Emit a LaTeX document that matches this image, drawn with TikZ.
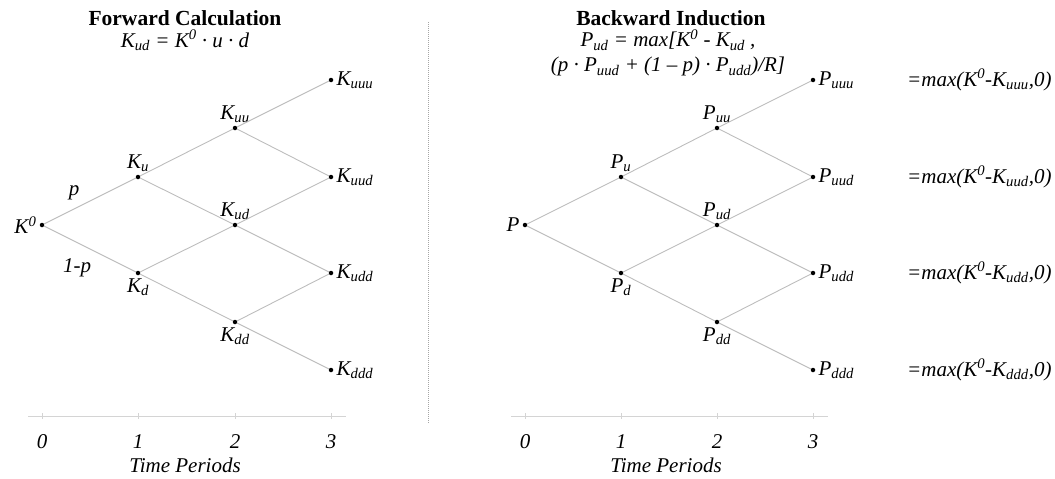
\documentclass[tikz,border=0pt]{standalone}
\usepackage{fontspec}
\setmainfont{Liberation Serif}
\usepackage{tikz}
\usetikzlibrary{positioning}
\usepackage{xcolor}
\definecolor{edgegray}{HTML}{BDBDBD}
\definecolor{axisgray}{HTML}{D4D4D4}
\definecolor{sepgray}{HTML}{A6A6A6}
\newcommand{\subtxt}[1]{\textsubscript{#1}}
\newcommand{\suptxt}[1]{\textsuperscript{#1}}

\begin{document}
\begin{tikzpicture}[x=1pt, y=-1pt,
  every node/.style={font=\fontsize{21}{23}\selectfont\itshape},
  dot/.style={circle, fill=black, inner sep=0pt, minimum size=4.5pt},
  every label/.style={inner sep=3pt},
  endlabel/.style={label distance=3pt},
  branch/.style={draw=edgegray, line width=0.9pt},
  axisline/.style={draw=axisgray, line width=0.9pt},
  titlebox/.style={inner sep=0pt, font=\fontsize{21.5}{23}\selectfont\bfseries},
  formulabox/.style={inner sep=0pt, align=center, font=\fontsize{21}{25}\selectfont\itshape},
  payoff/.style={anchor=west, inner sep=0pt}
]
  \useasboundingbox (0,0) rectangle (1055,479);

  % Forward Calculation
  \node[titlebox] (ftitle) at (185,18) {Forward Calculation};
  \node[formulabox] (fform) at (185,40) {K\subtxt{ud} = K\suptxt{0} · u · d};

  % Nodos del arbol de precios
  \node[dot, label={left:K\suptxt{0}}] (K0) at (42,225) {};
  \node[dot, label={above:K\subtxt{u}}] (Ku) at (138,177) {};
  \node[dot, label={below:K\subtxt{d}}] (Kd) at (138,273) {};
  \node[dot, label={above:K\subtxt{uu}}] (Kuu) at (235,128) {};
  \node[dot, label={above:K\subtxt{ud}}] (Kud) at (235,225) {};
  \node[dot, label={below:K\subtxt{dd}}] (Kdd) at (235,322) {};
  \node[dot, endlabel, label={right:K\subtxt{uuu}}] (Kuuu) at (331,80) {};
  \node[dot, endlabel, label={right:K\subtxt{uud}}] (Kuud) at (331,177) {};
  \node[dot, endlabel, label={right:K\subtxt{udd}}] (Kudd) at (331,273) {};
  \node[dot, endlabel, label={right:K\subtxt{ddd}}] (Kddd) at (331,370) {};

  % Ramas
  \draw[branch] (K0) -- node[pos=0.36, above=4pt, xshift=-3pt] {p} (Ku);
  \draw[branch] (K0) -- node[pos=0.36, below=12pt] {1-p} (Kd);
  \draw[branch] (Ku) -- (Kuu);
  \draw[branch] (Ku) -- (Kud);
  \draw[branch] (Kd) -- (Kud);
  \draw[branch] (Kd) -- (Kdd);
  \draw[branch] (Kuu) -- (Kuuu);
  \draw[branch] (Kuu) -- (Kuud);
  \draw[branch] (Kud) -- (Kuud);
  \draw[branch] (Kud) -- (Kudd);
  \draw[branch] (Kdd) -- (Kudd);
  \draw[branch] (Kdd) -- (Kddd);

  % Eje de tiempo
  \draw[axisline] (28,416) -- (346,416);
  \foreach \x/\t in {42/0,138/1,235/2,331/3}{
    \draw[axisline] (\x,413) -- (\x,419);
    \node (ft\t) at (\x,442) {\t};
  }
  \node (ftime) at (185,465) {Time Periods};

  % Separador
  \draw[sepgray, line width=0.8pt, dash pattern=on 1pt off 1pt] (428,22) -- (428,423);

  % Backward Induction
  \node[titlebox] (btitle) at (671,18) {Backward Induction};
  \node[formulabox] (bform) at (668,53) {P\subtxt{ud} = max[K\suptxt{0} - K\subtxt{ud} ,\\
    (p · P\subtxt{uud} + (1 – p) · P\subtxt{udd})/R]};

  % Nodos del arbol de opciones
  \node[dot, label={left:P}] (P0) at (525,225) {};
  \node[dot, label={above:P\subtxt{u}}] (Pu) at (621,177) {};
  \node[dot, label={below:P\subtxt{d}}] (Pd) at (621,273) {};
  \node[dot, label={above:P\subtxt{uu}}] (Puu) at (717,128) {};
  \node[dot, label={above:P\subtxt{ud}}] (Pud) at (717,225) {};
  \node[dot, label={below:P\subtxt{dd}}] (Pdd) at (717,322) {};
  \node[dot, endlabel, label={right:P\subtxt{uuu}}] (Puuu) at (813,80) {};
  \node[dot, endlabel, label={right:P\subtxt{uud}}] (Puud) at (813,177) {};
  \node[dot, endlabel, label={right:P\subtxt{udd}}] (Pudd) at (813,273) {};
  \node[dot, endlabel, label={right:P\subtxt{ddd}}] (Pddd) at (813,370) {};

  \draw[branch] (P0) -- (Pu);
  \draw[branch] (P0) -- (Pd);
  \draw[branch] (Pu) -- (Puu);
  \draw[branch] (Pu) -- (Pud);
  \draw[branch] (Pd) -- (Pud);
  \draw[branch] (Pd) -- (Pdd);
  \draw[branch] (Puu) -- (Puuu);
  \draw[branch] (Puu) -- (Puud);
  \draw[branch] (Pud) -- (Puud);
  \draw[branch] (Pud) -- (Pudd);
  \draw[branch] (Pdd) -- (Pudd);
  \draw[branch] (Pdd) -- (Pddd);

  % Valores al vencimiento
  \node[payoff] (vuuu) at (907,80) {=max(K\suptxt{0}-K\subtxt{uuu},0)};
  \node[payoff] (vuud) at (907,177) {=max(K\suptxt{0}-K\subtxt{uud},0)};
  \node[payoff] (vudd) at (907,273) {=max(K\suptxt{0}-K\subtxt{udd},0)};
  \node[payoff] (vddd) at (907,370) {=max(K\suptxt{0}-K\subtxt{ddd},0)};

  % Eje de tiempo
  \draw[axisline] (511,416) -- (828,416);
  \foreach \x/\t in {525/0,621/1,717/2,813/3}{
    \draw[axisline] (\x,413) -- (\x,419);
    \node (bt\t) at (\x,442) {\t};
  }
  \node (btime) at (666,465) {Time Periods};
\end{tikzpicture}
\end{document}
